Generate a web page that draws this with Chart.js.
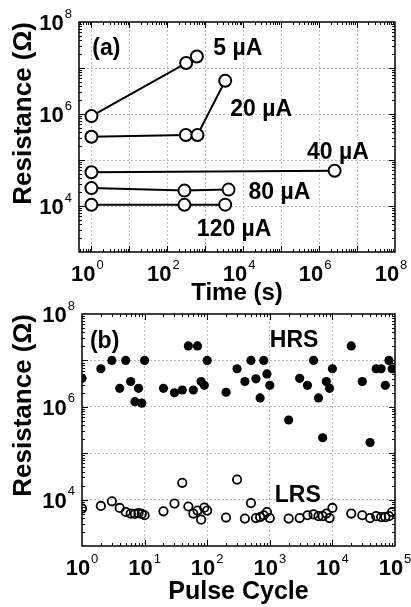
<!DOCTYPE html>
<html>
<head>
<meta charset="utf-8">
<script src="https://cdn.jsdelivr.net/npm/chart.js@4.4.1/dist/chart.umd.min.js"></script>
<style>
  body { margin: 0; background: #fff; }
  #wrap { position: relative; width: 411px; height: 607px; }
  canvas { position: absolute; left: 0; }
</style>
</head>
<body>
<div id="wrap">
  <canvas id="retentionChart" width="411" height="310" style="top:0"></canvas>
  <canvas id="cycleChart" width="411" height="307" style="top:300px"></canvas>
</div>
<script>

// panel (a) : retention for each compliance current

const currentLabels = ['5 µA', '20 µA', '40 µA', '80 µA', '120 µA'];

const time5 = [1, 313, 600];
const res5 = [9.0e5, 1.28e7, 1.78e7];

const time20 = [1, 308, 622, 3350];
const res20 = [3.2e5, 3.5e5, 3.5e5, 5.3e6];

const time40 = [1, 2.56e6];
const res40 = [5.4e4, 5.85e4];

const time80 = [1, 282, 4100];
const res80 = [2.45e4, 2.16e4, 2.27e4];

const time120 = [1, 282, 3350];
const res120 = [1.06e4, 1.06e4, 1.07e4];

const timeTickExp = [0, 2, 4, 6, 8];
const resTickExp = [4, 6, 8];

// panel (b) : endurance

const pulseCycles = [1, 2, 3, 4, 5, 6, 7, 8, 9,
  10, 20, 30, 40, 50, 60, 70, 80, 90,
  100, 200, 300, 400, 500, 600, 700, 800, 900,
  1000, 2000, 3000, 4000, 5000, 6000, 7000, 8000, 9000,
  10000, 20000, 30000, 40000, 50000, 60000, 70000, 80000, 90000];

const hrsValues = [4.1e6, 6.6e6, 1e7, 2.5e6, 1e7, 3.5e6, 1.29e6, 2.5e6, 1.2e6,
  1e7, 2.5e6, 2.0e6, 2.3e6, 2.05e7, 2.3e6, 2.05e7, 3.5e6, 2.9e6,
  1e7, 2.06e6, 6.6e6, 3.5e6, 1e7, 4.0e6, 1.55e6, 1e7, 5.1e6,
  2.9e6, 5.2e5, 4.1e6, 2.9e6, 1e7, 1.55e6, 2.15e5, 3.5e6, 2.5e6,
  6.6e6, 2.05e7, 3.5e6, 1.7e5, 6.6e6, 6.6e6, 2.9e6, 1e7, 6.6e6];

const lrsValues = [6.4e3, 7.3e3, 9.2e3, 6.6e3, 5.4e3, 5.0e3, 4.9e3, 5.1e3, 4.9e3,
  4.6e3, 5.6e3, 8.2e3, 2.3e4, 7.1e3, 5.0e3, 5.8e3, 3.7e3, 6.7e3,
  5.8e3, 4.1e3, 2.7e4, 3.9e3, 8.4e3, 4.0e3, 4.2e3, 4.6e3, 5.4e3,
  4.0e3, 3.9e3, 4.0e3, 4.6e3, 4.8e3, 4.4e3, 4.4e3, 5.0e3, 4.0e3,
  6.6e3, 5.0e3, 4.6e3, 4.0e3, 4.4e3, 4.2e3, 4.2e3, 4.4e3, 5.4e3];

const cycleTickExp = [0, 1, 2, 3, 4, 5];

// where the text notes sit, in data units (x, y)
const currentLabelAt = [[1620, 2.9e7], [4540, 1.37e6], [4.8e5, 1.58e5], [13800, 2.1e4], [600, 3.33e3]];


const FONT = '"Liberation Sans", Arial, Helvetica, sans-serif';
Chart.defaults.font.family = FONT;
Chart.defaults.color = '#000';

const pairs = (xs, ys) => xs.map((v, i) => ({ x: v, y: ys[i] }));

// grid lines only at whole decades
function decadeTicks(axis) {
  const ticks = [];
  for (let e = Math.ceil(Math.log10(axis.min)); 10 ** e < axis.max; e++) {
    if (10 ** e > axis.min) ticks.push({ value: 10 ** e });
  }
  axis.ticks = ticks;
}

function logSteps(scale) {
  const out = [];
  for (let e = Math.floor(Math.log10(scale.min)); e < Math.log10(scale.max); e++) {
    for (let m = 1; m < 10; m++) {
      const v = m * 10 ** e;
      if (v > scale.min && v < scale.max) out.push([v, m === 1]);
    }
  }
  return out;
}

// "10" with a small exponent
function drawPower(ctx, exp, px, cy, align) {
  ctx.font = 'bold 22px ' + FONT;
  const w10 = ctx.measureText('10').width;
  ctx.font = '13px ' + FONT;
  const we = ctx.measureText(String(exp)).width;
  const total = w10 + 1 + we;
  const left = align === 'center' ? px - total / 2 : px - total;
  ctx.textAlign = 'left';
  ctx.textBaseline = 'alphabetic';
  ctx.font = 'bold 22px ' + FONT;
  ctx.fillText('10', left, cy + 8);
  ctx.font = '13px ' + FONT;
  ctx.fillText(String(exp), left + w10 + 1, cy - 4.5);
}

// box, inward ticks, tick labels and notes
const logFrame = {
  id: 'logFrame',
  afterDatasetsDraw(chart, args, opts) {
    const { ctx, chartArea: a, scales: { x, y } } = chart;
    ctx.save();
    ctx.strokeStyle = '#000';
    ctx.fillStyle = '#000';
    ctx.lineWidth = 1;

    ctx.beginPath();
    logSteps(x).forEach(([v, major]) => {
      const px = Math.round(x.getPixelForValue(v)) + 0.5;
      const len = major ? 6 : 3;
      ctx.moveTo(px, a.bottom); ctx.lineTo(px, a.bottom - len);
      ctx.moveTo(px, a.top); ctx.lineTo(px, a.top + len);
    });
    logSteps(y).forEach(([v, major]) => {
      const py = Math.round(y.getPixelForValue(v)) + 0.5;
      const len = major ? 6 : 3;
      ctx.moveTo(a.left, py); ctx.lineTo(a.left + len, py);
      ctx.moveTo(a.right, py); ctx.lineTo(a.right - len, py);
    });
    ctx.stroke();

    ctx.lineWidth = 1.5;
    ctx.strokeRect(a.left, a.top, a.right - a.left, a.bottom - a.top);

    opts.xExp.forEach(e => drawPower(ctx, e, x.getPixelForValue(10 ** e) + opts.xShift, a.bottom + 21, 'center'));
    opts.yExp.forEach(e => drawPower(ctx, e, a.left - 7, y.getPixelForValue(10 ** e), 'right'));

    ctx.font = 'bold 23px ' + FONT;
    ctx.textAlign = 'left';
    ctx.textBaseline = 'alphabetic';
    opts.notes.forEach(n => {
      ctx.fillText(n.text, x.getPixelForValue(n.at[0]), y.getPixelForValue(n.at[1]) + 8);
    });
    ctx.restore();
  }
};

const gridStyle = { color: '#bdbdbd', lineWidth: 1, drawTicks: false };
const borderStyle = { display: false, dash: [2, 2] };

function openLine(xs, ys) {
  return {
    data: pairs(xs, ys),
    showLine: true,
    borderColor: '#000',
    borderWidth: 2,
    pointRadius: 6,
    pointBorderWidth: 2,
    pointBorderColor: '#000',
    pointBackgroundColor: '#fff'
  };
}


new Chart(document.getElementById('retentionChart'), {
  type: 'scatter',
  data: {
    datasets: [
      openLine(time5, res5),
      openLine(time20, res20),
      openLine(time40, res40),
      openLine(time80, res80),
      openLine(time120, res120)
    ]
  },
  options: {
    responsive: false,
    animation: false,
    layout: { padding: { top: 22, right: 16, left: 0, bottom: 0 } },
    plugins: {
      legend: { display: false },
      tooltip: { enabled: false },
      logFrame: {
        xExp: timeTickExp,
        yExp: resTickExp,
        xShift: -4,
        notes: [{ text: '(a)', at: [1.05, 2.8e7] }].concat(
          currentLabels.map((t, i) => ({ text: t, at: currentLabelAt[i] })))
      }
    },
    scales: {
      x: {
        type: 'logarithmic',
        min: 0.47,
        max: 1e8,
        afterBuildTicks: decadeTicks,
        ticks: { display: false },
        grid: gridStyle,
        border: borderStyle,
        title: {
          display: true,
          text: 'Time (s)',
          color: '#000',
          font: { size: 24, weight: 'bold' },
          padding: { top: 26.6, bottom: 2.6 }
        }
      },
      y: {
        type: 'logarithmic',
        min: 1e3,
        max: 1e8,
        afterBuildTicks: decadeTicks,
        ticks: { display: false },
        grid: gridStyle,
        border: borderStyle,
        title: {
          display: true,
          text: 'Resistance (Ω)',
          align: 'end',
          color: '#000',
          font: { size: 26, weight: 'bold' },
          padding: { top: 8.4, bottom: 39.4 }
        }
      }
    }
  },
  plugins: [logFrame]
});


new Chart(document.getElementById('cycleChart'), {
  type: 'scatter',
  data: {
    datasets: [
      {
        label: 'HRS',
        data: pairs(pulseCycles, hrsValues),
        pointRadius: 4.6,
        pointBorderWidth: 0,
        pointBackgroundColor: '#000',
        pointBorderColor: '#000',
        clip: 0
      },
      {
        label: 'LRS',
        data: pairs(pulseCycles, lrsValues),
        pointRadius: 4.2,
        pointBorderWidth: 1.8,
        pointBackgroundColor: 'rgba(0,0,0,0)',
        pointBorderColor: '#000',
        clip: 0
      }
    ]
  },
  options: {
    responsive: false,
    animation: false,
    layout: { padding: { top: 14, right: 16, left: 0, bottom: 0 } },
    plugins: {
      legend: { display: false },
      tooltip: { enabled: false },
      logFrame: {
        xExp: cycleTickExp,
        yExp: resTickExp,
        xShift: 0,
        notes: [
          { text: '(b)', at: [1.34, 2.8e7] },
          { text: 'HRS', at: [1000, 2.9e7] },
          { text: 'LRS', at: [1200, 1.3e4] }
        ]
      }
    },
    scales: {
      x: {
        type: 'logarithmic',
        min: 1,
        max: 1e5,
        afterBuildTicks: decadeTicks,
        ticks: { display: false },
        grid: gridStyle,
        border: borderStyle,
        title: {
          display: true,
          text: 'Pulse Cycle',
          color: '#000',
          font: { size: 25, weight: 'bold' },
          padding: { top: 31, bottom: 0 }
        }
      },
      y: {
        type: 'logarithmic',
        min: 1e3,
        max: 1e8,
        afterBuildTicks: decadeTicks,
        ticks: { display: false },
        grid: gridStyle,
        border: borderStyle,
        title: {
          display: true,
          text: 'Resistance (Ω)',
          align: 'end',
          color: '#000',
          font: { size: 26, weight: 'bold' },
          padding: { top: 8.4, bottom: 42.4 }
        }
      }
    }
  },
  plugins: [logFrame]
});
</script>
</body>
</html>
